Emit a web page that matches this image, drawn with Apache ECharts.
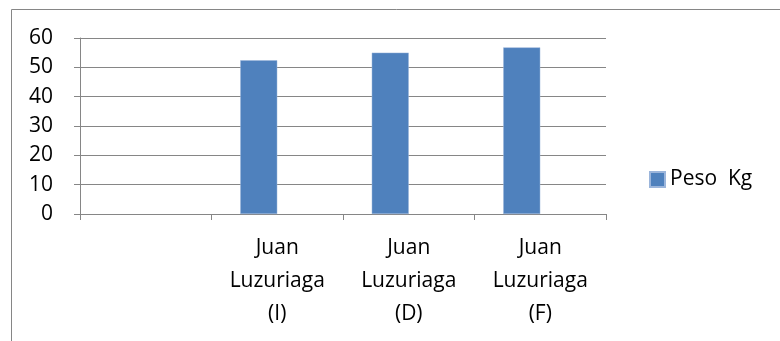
<!DOCTYPE html>
<html>
<head>
<meta charset="utf-8">
<script src="https://cdn.jsdelivr.net/npm/echarts@6/dist/echarts.min.js"></script>
<style>
  html, body { margin: 0; padding: 0; background: #fff; }
  #chart { width: 780px; height: 341px; }
</style>
</head>
<body>
<div id="chart"></div>
<script>
var categories = ['', 'Juan\nLuzuriaga\n(I)', 'Juan\nLuzuriaga\n(D)', 'Juan\nLuzuriaga\n(F)'];
var pesoKg = [null, 52.4, 55, 56.8];
var emptySeries = [null, null, null, null]; // second (empty) series in the source, pushes bars left
var yTicks = { min: 0, max: 60, interval: 10 };

var gray = '#868686';
var fontFam = '"Open Sans", sans-serif';

var myChart = echarts.init(document.getElementById('chart'));
var option = {
  animation: false,
  backgroundColor: '#fff',
  graphic: [{
    type: 'rect',
    shape: { x: 11.5, y: 9.5, width: 800, height: 400 },
    style: { fill: 'none', stroke: gray, lineWidth: 1 }
  }],
  grid: { left: 80, right: 174, top: 38, bottom: 127, containLabel: false },
  legend: {
    data: ['Peso  Kg'],
    orient: 'vertical',
    left: 649,
    top: 169,
    padding: 0,
    itemWidth: 15,
    itemHeight: 15,
    icon: 'rect',
    textStyle: { fontFamily: fontFam, fontSize: 21, color: '#000' }
  },
  xAxis: {
    type: 'category',
    data: categories,
    axisLine: { lineStyle: { color: gray, width: 1 } },
    axisTick: { show: true, length: 6, lineStyle: { color: gray } },
    axisLabel: {
      interval: 0,
      margin: 18,
      fontFamily: fontFam,
      fontSize: 21,
      lineHeight: 33,
      color: '#000'
    }
  },
  yAxis: {
    type: 'value',
    min: yTicks.min,
    max: yTicks.max,
    interval: yTicks.interval,
    axisLine: { show: true, lineStyle: { color: gray, width: 1 } },
    axisTick: { show: true, length: 6, lineStyle: { color: gray } },
    axisLabel: { margin: 27, fontFamily: fontFam, fontSize: 21, color: '#000' },
    splitLine: { lineStyle: { color: gray, width: 1 } }
  },
  series: [
    {
      name: 'Peso  Kg',
      type: 'bar',
      data: pesoKg,
      barWidth: 37,
      barGap: '0%',
      itemStyle: { color: '#4f81bd', borderColor: '#9bb5db', borderWidth: 0.5 }
    },
    {
      name: 'vacio',
      type: 'bar',
      data: emptySeries,
      barWidth: 37,
      barGap: '0%'
    }
  ]
};
myChart.setOption(option);
</script>
</body>
</html>
